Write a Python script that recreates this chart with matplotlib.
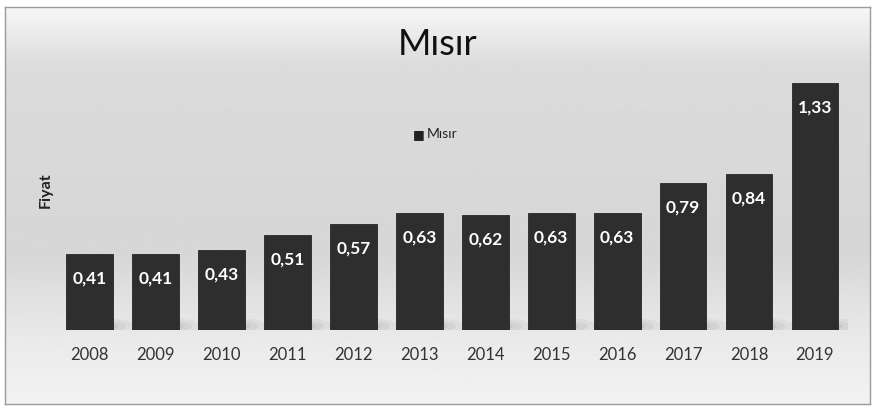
import numpy as np
import matplotlib
matplotlib.use("Agg")
import matplotlib.pyplot as plt
from matplotlib.patches import Ellipse

plt.rcParams['font.family'] = ['Lato', 'DejaVu Sans']

years = ['2008', '2009', '2010', '2011', '2012', '2013',
         '2014', '2015', '2016', '2017', '2018', '2019']
prices = [0.41, 0.41, 0.43, 0.51, 0.57, 0.63,
          0.62, 0.63, 0.63, 0.79, 0.84, 1.33]
series_name = 'Mısır'

fig = plt.figure(figsize=(8.75, 4.09), dpi=100)
fig.patch.set_facecolor('white')

# grey chart-area backdrop with a soft vertical gradient
bg = fig.add_axes([0.006, 0.012, 0.988, 0.972], zorder=0)
shade = np.concatenate([
    np.linspace(0.97, 0.86, 40),
    np.linspace(0.86, 0.84, 120),
    np.linspace(0.84, 0.92, 60),
    np.linspace(0.92, 0.95, 40),
])
bg.imshow(shade[:, None], aspect='auto', cmap='gray', vmin=0, vmax=1,
          extent=[0, 1, 0, 1])
bg.set_xlim(0, 1)
bg.set_ylim(0, 1)
bg.set_xticks([])
bg.set_yticks([])
for s in bg.spines.values():
    s.set_color('#9a9a9a')
    s.set_linewidth(1.0)

ax = fig.add_axes([0.065, 0.193, 0.904, 0.636], zorder=1)
ax.patch.set_alpha(0)
x = np.arange(len(years))
bars = ax.bar(x, prices, width=0.71, color='#2e2e2e', edgecolor='#262626',
              linewidth=0.6, zorder=3, label=series_name)

# soft shadow smudges at the base of the bars
for xi in x:
    for k, a in [(1.0, 0.10), (0.7, 0.12), (0.45, 0.15)]:
        ax.add_patch(Ellipse((xi + 0.2, 0.02), 1.0 * k, 0.09 * k,
                             color='#8c8c8c', alpha=a, zorder=2, lw=0))

for b, v in zip(bars, prices):
    ax.text(b.get_x() + b.get_width() / 2, v - 0.13,
            f'{v:.2f}'.replace('.', ','), ha='center', va='center',
            color='white', fontsize=12.5, fontweight='bold', zorder=4)

ax.set_xlim(-0.5, len(years) - 0.5)
ax.set_ylim(0, 1.4)
ax.set_xticks(x)
ax.set_xticklabels(years, fontsize=12, color='#333333')
ax.tick_params(axis='x', length=0, pad=12)
ax.set_yticks([])
for s in ax.spines.values():
    s.set_visible(False)

fig.text(0.052, 0.535, 'Fiyat', rotation=90, ha='center', va='center',
         fontsize=11.5, fontweight='bold', color='#222222')
fig.text(0.5, 0.89, series_name, ha='center', va='center',
         fontsize=26, color='#111111')
fig.text(0.478, 0.672, '■', ha='center', va='center',
         fontsize=9, color='#222222', family='DejaVu Sans')
fig.text(0.488, 0.672, series_name, ha='left', va='center',
         fontsize=10, color='#222222')

fig.savefig('out.png', dpi=100)
